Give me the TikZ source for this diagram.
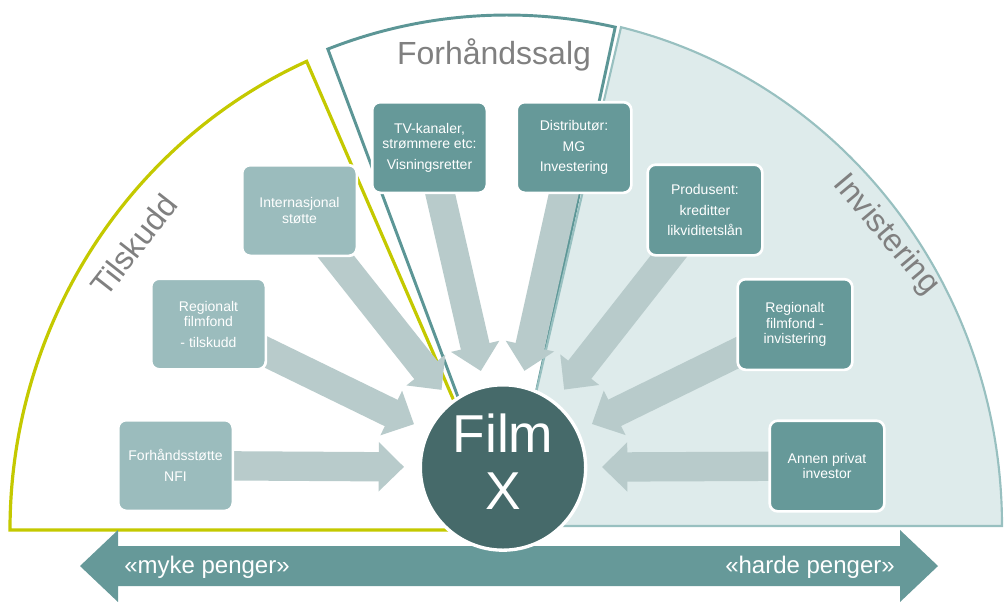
\documentclass[tikz,border=0pt]{standalone}
\usepackage{fontspec}
\setmainfont{Liberation Sans}
\usetikzlibrary{arrows.meta}
\definecolor{tilskuddgreen}{RGB}{196,201,0}
\definecolor{salgteal}{RGB}{92,150,150}
\definecolor{invline}{RGB}{152,192,192}
\definecolor{invfill}{RGB}{222,235,235}
\definecolor{boxdark}{RGB}{102,153,153}
\definecolor{boxlight}{RGB}{155,188,189}
\definecolor{arrowgrey}{RGB}{184,203,203}
\definecolor{filmteal}{RGB}{70,106,106}
\definecolor{titlegray}{RGB}{128,128,128}
\pgfdeclarelayer{bg}
\pgfdeclarelayer{arrowlayer}
\pgfsetlayers{bg,arrowlayer,main}

\begin{document}
\begin{tikzpicture}[x=0.75pt,y=0.75pt,yscale=-1,xscale=1,
    box/.style={rounded corners=6pt, draw=white, line width=2pt, minimum width=86pt, minimum height=68pt,
      text=white, align=center, inner sep=1pt, font=\fontsize{10.5}{11.5}\selectfont},
    lightbox/.style={box, fill=boxlight},
    darkbox/.style={box, fill=boxdark},
    fatarrow/.style={draw=arrowgrey, line width=22pt, -{Triangle[length=19pt,width=36pt]}, shorten >=11pt},
    title/.style={text=titlegray, inner sep=0pt, font=\fontsize{24}{24}\selectfont},
    money/.style={text=white, inner sep=0pt, font=\fontsize{18}{18}\selectfont}]
    \useasboundingbox (0,0) rectangle (1005,601);

    \begin{pgfonlayer}{bg}
    %Shape: Sector Tilskudd
    \draw [draw=tilskuddgreen, line width=2.4pt, fill=white] (510,530) -- (10,530) arc [start angle=180, end angle=246, x radius=500, y radius=513] -- cycle ;
    %Shape: Sector Forhandssalg
    \draw [draw=salgteal, line width=2.2pt, fill=white] (507,528) -- ++(249:500 and 513) arc [start angle=249, end angle=282.5, x radius=500, y radius=513] -- cycle ;
    %Shape: Sector Invistering
    \draw [draw=invline, line width=1.6pt, fill=invfill] (505,526) -- ++(283.5:497 and 513) arc [start angle=283.5, end angle=360, x radius=497, y radius=513] -- cycle ;
    %Shape: Left-Right Arrow
    \fill [boxdark] (80,566) -- (118,530) -- (118,546) -- (900,546) -- (900,530) -- (938,566) -- (900,602) -- (900,586) -- (118,586) -- (118,602) -- cycle ;
    \end{pgfonlayer}

    % Text Node
    \node [money, anchor=base west] (myke) at (124,573) {«myke penger»};
    % Text Node
    \node [money, anchor=base east] (harde) at (895,573) {«harde penger»};
    % Text Node
    \node [title, anchor=base] (salgtitle) at (494,64) {Forhåndssalg};
    % Text Node
    \node [title, rotate=52] (tilskuddtitle) at (134,245) {Tilskudd};
    % Text Node
    \node [title, rotate=-50] (invtitle) at (886,235) {Invistering};

    %Shape: Circle
    \node [circle, fill=filmteal, draw=white, line width=2.5pt, minimum size=124pt, inner sep=0pt, text=white, align=center,
      text depth=9pt, font=\fontsize{40}{43}\selectfont] (film) at (503,467.5) {Film\\X};

    %Shape: Rounded Rectangles
    \node [lightbox] (nfi) at (175.5,465.5) {Forhåndsstøtte\\[4pt]NFI};
    \node [lightbox] (regtil) at (208.5,324) {Regionalt\\filmfond\\[4pt]- tilskudd};
    \node [lightbox] (intl) at (299.5,210.5) {Internasjonal\\støtte};
    \node [darkbox] (tv) at (429.5,147.5) {TV-kanaler,\\strømmere etc:\\[4pt]Visningsretter};
    \node [darkbox] (dist) at (574,147.5) {Distributør:\\[4pt]MG\\[4pt]Investering};
    \node [darkbox] (prod) at (705,210) {Produsent:\\[4pt]kreditter\\[4pt]likviditetslån};
    \node [darkbox] (reginv) at (795,324.5) {Regionalt\\filmfond -\\invistering};
    \node [darkbox] (annen) at (827,466) {Annen privat\\investor};

    \begin{pgfonlayer}{arrowlayer}
    %Block Arrows
    \draw [fatarrow] (nfi.center) -- (film) ;
    \draw [fatarrow] (regtil.center) -- (film) ;
    \draw [fatarrow] (intl.center) -- (film) ;
    \draw [fatarrow] (tv.center) -- (film) ;
    \draw [fatarrow] (dist.center) -- (film) ;
    \draw [fatarrow] (prod.center) -- (film) ;
    \draw [fatarrow] (reginv.center) -- (film) ;
    \draw [fatarrow] (annen.center) -- (film) ;
    \end{pgfonlayer}

\end{tikzpicture}
\end{document}
